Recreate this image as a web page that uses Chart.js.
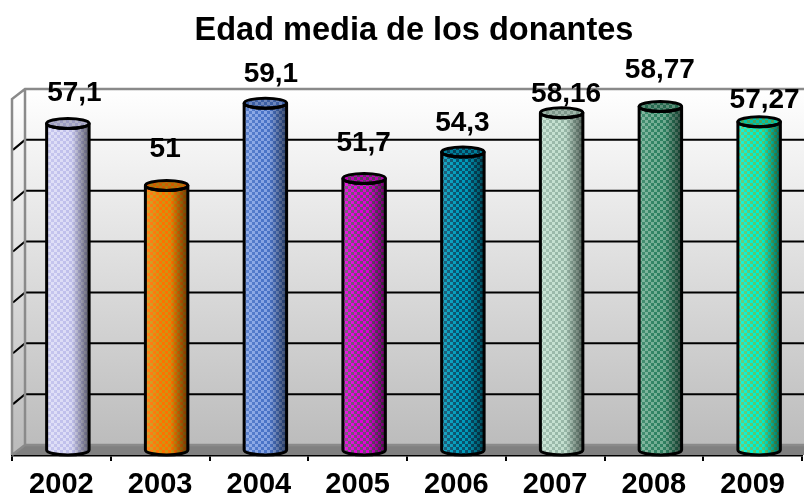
<!DOCTYPE html>
<html><head><meta charset="utf-8">
<style>html,body{margin:0;padding:0;background:#fff}#w{width:804px;height:495px}</style>
<script src="https://cdn.jsdelivr.net/npm/chart.js@4"></script>
</head><body><div id="w"><canvas id="c"></canvas></div>
<script>
const chartTitle = 'Edad media de los donantes';
const years = ['2002','2003','2004','2005','2006','2007','2008','2009'];
const ages = [57.1,51,59.1,51.7,54.3,58.16,58.77,57.27];
const axisMin = 25;
const barColors = ['#c0c0ec','#ff7000','#4a74c8','#e400dc','#009cbc','#c4e0d0','#2f8262','#00f0d0'];
const dotColors = ['#dcdcf6','#d09410','#86a4e4','#6c4c70','#08506c','#98b8a8','#74ae94','#58c870'];
const labelDx = [13,5,12,6,6,11,6,12];
const labelDy = [-35,-41,-34,-40,-34,-23,-41,-26];
const FONT = '"Liberation Sans", Arial, sans-serif';
const DX = 13, DY = 10;

function patternFor(ctx, base, dot){
  const t = document.createElement('canvas'); t.width = t.height = 6;
  const g = t.getContext('2d');
  g.fillStyle = dot; g.fillRect(0,0,6,6);
  g.fillStyle = base;
  g.fillRect(0,0,3,3); g.fillRect(3,3,3,3);
  return ctx.createPattern(t,'repeat');
}
class CylBar extends Chart.BarElement {
  static id = 'cylBar';
  draw(ctx){
    const {x,y,base,width} = this.getProps(['x','y','base','width'], true);
    const i = this.$context ? this.$context.dataIndex : 0;
    const cx = x + DX/2, r = width/2, ry = DY/2, top = y - DY/2, bot = base - DY/2;
    ctx.save();
    const body = () => { ctx.beginPath(); ctx.moveTo(cx-r,top); ctx.lineTo(cx-r,bot);
      ctx.ellipse(cx,bot,r,ry,0,Math.PI,0,true); ctx.lineTo(cx+r,top);
      ctx.ellipse(cx,top,r,ry,0,0,Math.PI,false); ctx.closePath(); };
    body();
    ctx.fillStyle = patternFor(ctx, this.options.backgroundColor, dotColors[i]); ctx.fill();
    const g = ctx.createLinearGradient(cx-r,0,cx+r,0);
    g.addColorStop(0,'rgba(255,255,255,0.12)'); g.addColorStop(0.4,'rgba(255,255,255,0)');
    g.addColorStop(0.6,'rgba(0,0,0,0.02)'); g.addColorStop(1,'rgba(0,0,0,0.55)');
    ctx.fillStyle = g; ctx.fill();
    ctx.beginPath(); ctx.ellipse(cx,top,r,ry,0,0,Math.PI*2);
    ctx.fillStyle = patternFor(ctx, this.options.backgroundColor, dotColors[i]); ctx.fill();
    ctx.fillStyle = 'rgba(0,0,0,0.18)'; ctx.fill();
    ctx.strokeStyle = '#000'; ctx.lineWidth = 3; ctx.lineJoin = 'round';
    ctx.stroke();
    body(); ctx.stroke();
    ctx.restore();
  }
}
class CylController extends Chart.BarController {
  static id = 'cylinder';
  static defaults = Object.assign({}, Chart.BarController.defaults, {dataElementType:'cylBar'});
  static overrides = Chart.BarController.overrides;
}
Chart.register(CylBar, CylController);

const walls = {
  id:'walls',
  afterLayout(chart){ chart.titleBlock.left += 7; chart.titleBlock.right += 7; },
  beforeDatasetsDraw(chart){
    const c = chart.ctx, ys = chart.scales.y, a = chart.chartArea;
    const L = a.left, R = 804, yb = ys.getPixelForValue(ys.min), yt = ys.getPixelForValue(ys.max);
    c.save();
    const g = c.createLinearGradient(0,yt-DY,0,yb-DY);
    g.addColorStop(0,'#ffffff'); g.addColorStop(1,'#bcbcbc');
    c.fillStyle = g;
    c.fillRect(L+DX,yt-DY,R-L-DX,yb-yt);
    c.beginPath(); c.moveTo(L,yt); c.lineTo(L+DX,yt-DY); c.lineTo(L+DX,yb-DY); c.lineTo(L,yb); c.closePath();
    c.fillStyle = g; c.fill();
    c.beginPath(); c.moveTo(L,yb); c.lineTo(L+DX,yb-DY); c.lineTo(R,yb-DY); c.lineTo(R,yb); c.closePath();
    c.fillStyle = '#808080'; c.fill();
    c.strokeStyle = '#000'; c.lineWidth = 2;
    ys.ticks.forEach(t=>{
      if(t.value===ys.min||t.value===ys.max) return;
      const p = ys.getPixelForValue(t.value);
      c.beginPath(); c.moveTo(L+1,p); c.lineTo(L+DX,p-DY); c.lineTo(R,p-DY); c.stroke();
    });
    c.strokeStyle = '#8a8a8a'; c.lineWidth = 2.5;
    c.beginPath(); c.moveTo(R,yt-DY); c.lineTo(L+DX,yt-DY); c.lineTo(L,yt); c.lineTo(L,yb);
    c.moveTo(L+DX,yt-DY); c.lineTo(L+DX,yb-DY); c.lineTo(R,yb-DY);
    c.moveTo(L+DX,yb-DY); c.lineTo(L,yb); c.stroke();
    c.restore();
  },
  afterDatasetsDraw(chart){
    const c = chart.ctx, m = chart.getDatasetMeta(0);
    c.save();
    c.font = 'bold 28px '+FONT; c.fillStyle='#000'; c.textAlign='center'; c.textBaseline='middle';
    m.data.forEach((el,i)=>{
      c.fillText(String(ages[i]).replace('.',','), el.x+labelDx[i], el.y+labelDy[i]);
    });
    c.restore();
  }
};

new Chart(document.getElementById('c'),{
  type:'cylinder',
  data:{labels:years,datasets:[{data:ages,base:axisMin,backgroundColor:barColors,barPercentage:0.43,categoryPercentage:1,clip:false}]},
  plugins:[walls],
  options:{
    responsive:true,maintainAspectRatio:false,animation:false,
    layout:{padding:{left:12,right:2,top:0,bottom:0}},
    events:[],
    plugins:{
      legend:{display:false},tooltip:{enabled:false},
      title:{display:true,text:chartTitle,color:'#000',font:{family:FONT,size:32.5,weight:'bold'},padding:{top:12,bottom:48}}
    },
    scales:{
      x:{
        grid:{drawOnChartArea:false,drawTicks:true,tickLength:6,color:'#000',lineWidth:2},
        border:{display:true,color:'#000',width:2.5},
        ticks:{color:'#000',font:{family:FONT,size:29,weight:'bold'},padding:7,maxRotation:0,autoSkip:false},
        afterFit(s){s.height=40;}
      },
      y:{display:false,min:axisMin,max:60,ticks:{stepSize:5}}
    }
  }
});
</script></body></html>
